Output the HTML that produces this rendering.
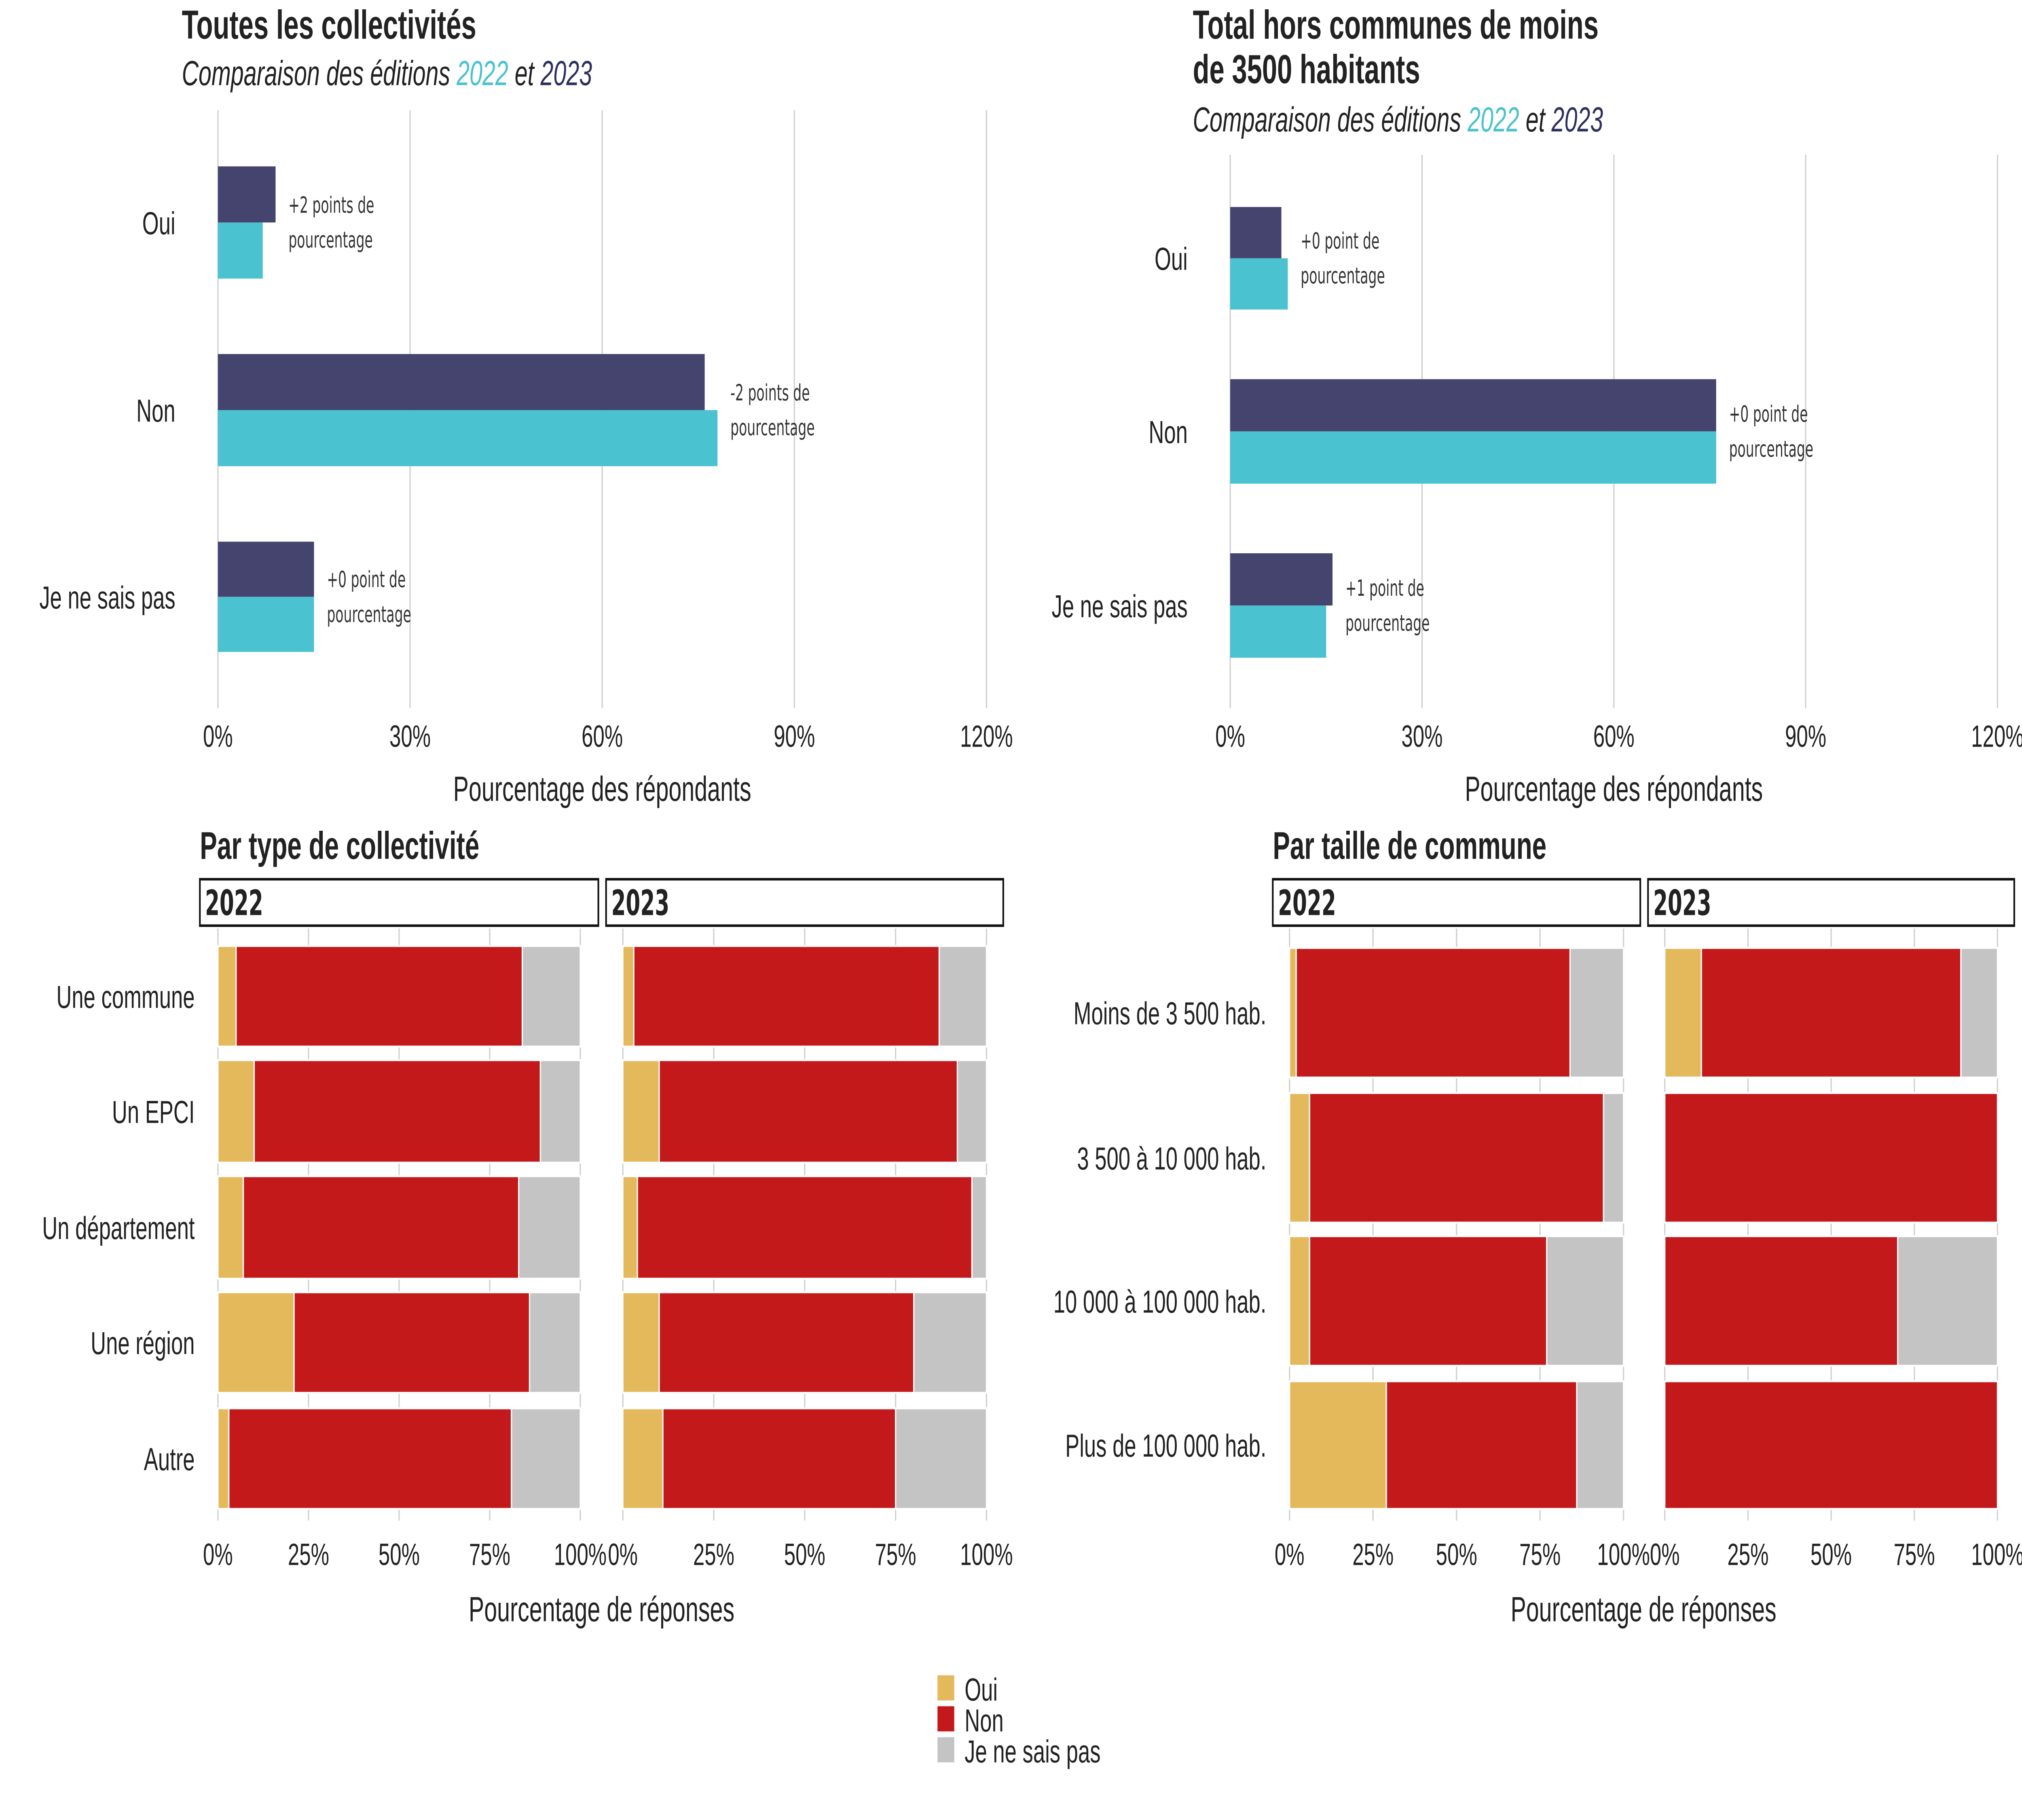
<!DOCTYPE html>
<html><head><meta charset="utf-8"><style>
html,body{margin:0;padding:0;background:#fff;width:100%;height:100%;overflow:hidden}
#wrap{position:absolute;left:0;top:0;width:100vw;height:100vh}
svg{display:block;width:100%;height:100%}
text{font-family:"Liberation Sans",sans-serif;fill:#222}
.ann{font-family:"DejaVu Sans Condensed","DejaVu Sans",sans-serif;font-size:11.5px;fill:#333}
</style></head><body>
<div id="wrap">
<svg id="c" viewBox="0 0 1568 940.8" preserveAspectRatio="none" xmlns="http://www.w3.org/2000/svg"></svg>
</div>
<script>
const cats = ["Oui","Non","Je ne sais pas"];
const leftVals2023 = [9,76,15];
const leftVals2022 = [7,78,15];
const leftAnn = ["+2 points de","-2 points de","+0 point de"];
const rightVals2023 = [8,76,16];
const rightVals2022 = [9,76,15];
const rightAnn = ["+0 point de","+0 point de","+1 point de"];
const topTicks = [0,30,60,90,120];
const typeCats = ["Une commune","Un EPCI","Un département","Une région","Autre"];
const type2022Oui = [5,10,7,21,3];
const type2022Non = [79,79,76,65,78];
const type2022Nsp = [16,11,17,14,19];
const type2023Oui = [3,10,4,10,11];
const type2023Non = [84,82,92,70,64];
const type2023Nsp = [13,8,4,20,25];
const sizeCats = ["Moins de 3 500 hab.","3 500 à 10 000 hab.","10 000 à 100 000 hab.","Plus de 100 000 hab."];
const size2022Oui = [2,6,6,29];
const size2022Non = [82,88,71,57];
const size2022Nsp = [16,6,23,14];
const size2023Oui = [11,0,0,0];
const size2023Non = [78,100,70,100];
const size2023Nsp = [11,0,30,0];
const pctTicks = [0,25,50,75,100];

const NS="http://www.w3.org/2000/svg";
const svg=document.getElementById('c');
function mk(tag,attrs,parent){const e=document.createElementNS(NS,tag);for(const k in attrs)e.setAttribute(k,attrs[k]);(parent||svg).appendChild(e);return e;}
function txt(x,y,s,attrs,parent){const t=mk('text',Object.assign({x:x,y:y},attrs||{}),parent);t.textContent=s;return t;}

const C={dark:"#44446f",cyan:"#4ac2cf",oui:"#e3b95c",non:"#c4191b",nsp:"#c4c4c4"};

function topChart(name,x0,x120,yTop,yBot,bands,v23,v22,ann){
  const g=mk('g',{});
  
  
  const sx=v=>x0+(x120-x0)*v/120;
  topTicks.forEach(t=>{
    const l=mk('line',{x1:sx(t),x2:sx(t),y1:yTop,y2:yBot,stroke:"#d0d0d0","stroke-width":1},g);
    
    
    const tt=txt(sx(t),386,t+"%",{"font-size":16,"text-anchor":"middle"},g);
    
    
  });
  cats.forEach((c,i)=>{
    const [a,b]=bands[i]; const m=(a+b)/2;
    const r1=mk('rect',{x:x0,y:a,width:sx(v23[i])-x0,height:m-a,fill:C.dark},g);
    
    
    const r2=mk('rect',{x:x0,y:m,width:sx(v22[i])-x0,height:b-m,fill:C.cyan},g);
    
    
    const lb=txt(x0-33,m+6,c,{"font-size":16.5,"text-anchor":"end"},g);
    
    
    const ax=sx(Math.max(v23[i],v22[i]))+10;
    const an=txt(ax,m-5,ann[i],{class:"ann"},g);
    
    
    const an2=txt(ax,m+13,"pourcentage",{class:"ann"},g);
    
    
  });
  const at=txt((x0+x120)/2,414,"Pourcentage des répondants",{"font-size":18,"text-anchor":"middle"},g);
  
  
}

let t=txt(141,20,"Toutes les collectivités",{"font-size":21,"font-weight":"bold"});


function subtitle(x,y,nm){
  const s=txt(x,y,"",{"font-size":18,"font-style":"italic"});
  
  
  const a=mk('tspan',{},s);a.textContent="Comparaison des éditions ";
  const b=mk('tspan',{style:"fill:"+C.cyan},s);b.textContent="2022";
  const c=mk('tspan',{},s);c.textContent=" et ";
  const d=mk('tspan',{style:"fill:#2f2f5f"},s);d.textContent="2023";
}
subtitle(141,44,'subtitle-left');
t=txt(925,20,"Total hors communes de moins",{"font-size":21,"font-weight":"bold"});


t=txt(925,43,"de 3500 habitants",{"font-size":21,"font-weight":"bold"});


subtitle(925,68,'subtitle-right');

topChart('top-left-chart',169,765,57,366,[[86,144],[183,241],[280,337]],leftVals2023,leftVals2022,leftAnn);
topChart('top-right-chart',954,1549,80,366,[[107,160],[196,250],[286,340]],rightVals2023,rightVals2022,rightAnn);

function facet(name,title,tx,cats,panels,rows,labelX){
  const g=mk('g',{});
  
  
  const tt=txt(tx,444,title,{"font-size":20,"font-weight":"bold"},g);
  
  
  panels.forEach(p=>{
    const st=mk('rect',{x:p.bx0,y:454.5,width:p.bx1-p.bx0,height:24,fill:"#fff",stroke:"#111","stroke-width":1.3},g);
    
    
    const sl=txt(p.bx0+4,473,p.year,{"font-size":18,"font-weight":"bold",style:"font-family:'DejaVu Sans Condensed','DejaVu Sans',sans-serif"},g);
    
    
    const sx=v=>p.x0+(p.x1-p.x0)*v/100;
    pctTicks.forEach(k=>{
      const l=mk('line',{x1:sx(k),x2:sx(k),y1:480,y2:786,stroke:"#d0d0d0","stroke-width":1},g);
      
      
      const tl=txt(sx(k),809,k+"%",{"font-size":16,"text-anchor":"middle"},g);
      
      
    });
    cats.forEach((c,i)=>{
      const [a,b]=rows[i];
      let cum=0;
      [[p.oui,C.oui,'oui'],[p.non,C.non,'non'],[p.nsp,C.nsp,'nsp']].forEach(([arr,col,nm])=>{
        const v=arr[i];
        if(v>0){
          const r=mk('rect',{x:sx(cum),y:a,width:sx(cum+v)-sx(cum),height:b-a,fill:col,stroke:"#fff","stroke-width":1},g);
          
          
        }
        cum+=v;
      });
    });
  });
  cats.forEach((c,i)=>{
    const [a,b]=rows[i];
    const l=txt(labelX,(a+b)/2+6,c,{"font-size":16.5,"text-anchor":"end"},g);
    
    
  });
  const ax=txt((panels[0].bx0+panels[1].bx1)/2,838,"Pourcentage de réponses",{"font-size":18,"text-anchor":"middle"},g);
  
  
}

facet('type-facet-chart',"Par type de collectivité",155,typeCats,[
  {year:"2022",bx0:155,bx1:464,x0:169,x1:450,oui:type2022Oui,non:type2022Non,nsp:type2022Nsp},
  {year:"2023",bx0:470,bx1:778,x0:483,x1:765,oui:type2023Oui,non:type2023Non,nsp:type2023Nsp}],
  [[489,541],[548,601],[608,661],[668,720],[728,780]],151);
facet('size-facet-chart',"Par taille de commune",987,sizeCats,[
  {year:"2022",bx0:987,bx1:1272,x0:1000,x1:1259,oui:size2022Oui,non:size2022Non,nsp:size2022Nsp},
  {year:"2023",bx0:1278,bx1:1562,x0:1291,x1:1549,oui:size2023Oui,non:size2023Non,nsp:size2023Nsp}],
  [[490,557],[565,632],[639,706],[714,780]],982);

const lg=mk('g',{});


[["Oui",C.oui,866],["Non",C.non,882],["Je ne sais pas",C.nsp,898]].forEach(([l,col,y])=>{
  const e=mk('g',{},lg);
  
  
  mk('rect',{x:727,y:y,width:13,height:13,fill:col},e);
  txt(748,y+13,l,{"font-size":16.5},e);
});
</script>
</body></html>
